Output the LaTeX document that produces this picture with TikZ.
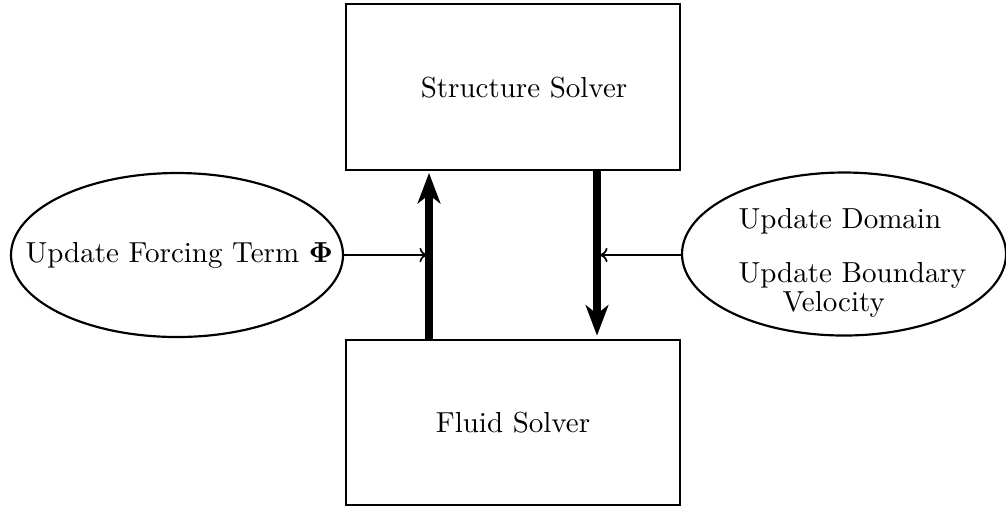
\documentclass[tikz,border=0pt]{standalone}
\usepackage{amsmath}
\usetikzlibrary{shapes.geometric,arrows.meta}
\tikzset{
  solverbox/.style={draw, line width=1pt, rectangle, inner sep=0pt},
  updateoval/.style={draw, line width=0.75pt, ellipse, inner sep=0pt},
  label/.style={inner sep=0pt, font=\fontsize{10}{12}\selectfont},
  coupling/.style={line width=2.8pt, -{Stealth[length=10.5pt,width=7.8pt,inset=3pt]}},
  feed/.style={line width=0.6pt, -{To[length=2.6pt,width=5pt]}}
}
\begin{document}
\begin{tikzpicture}[x=0.345pt, y=-0.345pt]
  \useasboundingbox (0,0) rectangle (1006,508);

  % solver boxes
  \node[solverbox, minimum width=334*0.345pt, minimum height=166*0.345pt] (struct) at (513,87) {};
  \node[solverbox, minimum width=334*0.345pt, minimum height=165*0.345pt] (fluid) at (513,422.5) {};
  \node[label, anchor=base] (structtxt) at (524,97) {Structure Solver};
  \node[label, anchor=base] (fluidtxt) at (513,432) {Fluid Solver};

  % update ovals
  \node[updateoval, minimum width=332*0.345pt, minimum height=164*0.345pt] (force) at (177,255) {};
  \node[updateoval, minimum width=324*0.345pt, minimum height=163*0.345pt] (domain) at (844,254) {};
  \node[label, anchor=base west] (forcetxt) at (25,262) {Update Forcing Term $\boldsymbol{\Phi}$};
  \node[label, anchor=base west] (domaintxt) at (738,228) {Update Domain};
  \node[label, anchor=base west] (bndtxt) at (738,282) {Update Boundary};
  \node[label, anchor=base west] (veltxt) at (782,311) {Velocity};

  % coupling arrows between the solvers
  \coordinate (upx) at (429,0);
  \coordinate (downx) at (597,0);
  \draw[coupling] (fluid.north -| upx) -- ([yshift=-0.5pt]struct.south -| upx);
  \draw[coupling] (struct.south -| downx) -- ([yshift=1pt]fluid.north -| downx);

  % feeds into the coupling arrows
  \coordinate (forcein) at (427,255);
  \coordinate (domainin) at (600,255);
  \draw[feed] (force.east) -- (forcein);
  \draw[feed] (domain.west |- domainin) -- (domainin);
\end{tikzpicture}
\end{document}
